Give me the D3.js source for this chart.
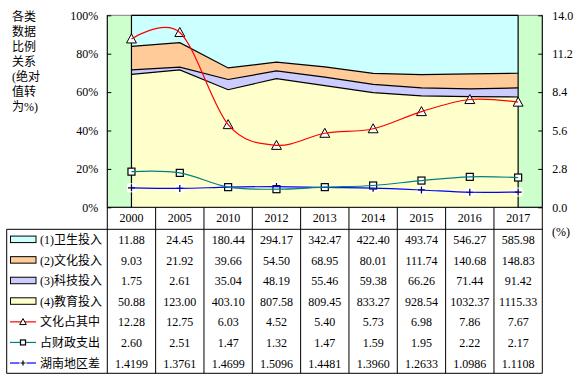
<!DOCTYPE html>
<html><head><meta charset="utf-8">
<script src="https://cdn.jsdelivr.net/npm/d3@7"></script>
<style>html,body{margin:0;padding:0;background:#fff;}svg{display:block;}</style>
</head><body>
<script>
const years = ["2000","2005","2010","2012","2013","2014","2015","2016","2017"];
const health = [11.88,24.45,180.44,294.17,342.47,422.40,493.74,546.27,585.98];
const culture = [9.03,21.92,39.66,54.50,68.95,80.01,111.74,140.68,148.83];
const science = [1.75,2.61,35.04,48.19,55.46,59.38,66.26,71.44,91.42];
const education = [50.88,123.00,403.10,807.58,809.45,833.27,928.54,1032.37,1115.33];
const cultureShare = [12.28,12.75,6.03,4.52,5.40,5.73,6.98,7.86,7.67];
const fiscalShare = [2.60,2.51,1.47,1.32,1.47,1.59,1.95,2.22,2.17];
const regionGap = [1.4199,1.3761,1.4699,1.5096,1.4481,1.3960,1.2633,1.0986,1.1108];
const leftTicks = [0,0.2,0.4,0.6,0.8,1.0];
const rightTicks = [0,2.8,5.6,8.4,11.2,14.0];
const titleLines = ["各类","数据","比例","关系","(绝对","值转","为%)"];

const W=581,H=379;
const L=107.3,R=542.3,T=15.3,B=207.3;
const headerB=229.3, tableB=373.3, tableL=6.7;
const font = "'Liberation Serif','Times New Roman','Noto Sans CJK SC',serif";

const svg=d3.select("body").append("svg").attr("width",W).attr("height",H)
  .style("font-family",font);

const x=d3.scaleBand().domain(years).range([L,R]).padding(0);
const cx=d=>x(d)+x.bandwidth()/2;
const yL=d3.scaleLinear().domain([0,1]).range([B,T]);
const yR=d3.scaleLinear().domain([0,14]).range([B,T]);

// plot background
svg.append("rect").attr("x",L).attr("y",T).attr("width",R-L).attr("height",B-T)
  .attr("fill","#CCFFCC").attr("stroke","#808080").attr("stroke-width",1);

// stacked 100% area
const rows = years.map((yr,i)=>{
  const tot=health[i]+culture[i]+science[i]+education[i];
  return {year:yr, edu:education[i]/tot, sci:science[i]/tot, cul:culture[i]/tot, hea:health[i]/tot};
});
const keys=["edu","sci","cul","hea"];
const colors={edu:"#FFFFCC",sci:"#CCCCFF",cul:"#FFCC99",hea:"#CCFFFF"};
const stack=d3.stack().keys(keys)(rows);
const area=d3.area().x(d=>cx(d.data.year)).y0(d=>yL(d[0])).y1(d=>yL(d[1]));
stack.forEach(s=>{
  svg.append("path").datum(s).attr("d",area).attr("fill",colors[s.key]).attr("stroke","none");
});
const topLine=d3.line().x(d=>cx(d.data.year)).y(d=>yL(d[1]));
stack.forEach(s=>{
  svg.append("path").datum(s).attr("d",topLine).attr("fill","none").attr("stroke","#000").attr("stroke-width",1.2);
});
// area side borders
[years[0],years[years.length-1]].forEach(yr=>{
  svg.append("line").attr("x1",cx(yr)).attr("x2",cx(yr)).attr("y1",T).attr("y2",B)
    .attr("stroke","#000").attr("stroke-width",1.2);
});

// axes lines
svg.append("line").attr("x1",L).attr("x2",L).attr("y1",T).attr("y2",B).attr("stroke","#000");
svg.append("line").attr("x1",R).attr("x2",R).attr("y1",T).attr("y2",B).attr("stroke","#000");

// left axis
const gl=svg.append("g").attr("transform",`translate(${L},0)`)
  .call(d3.axisLeft(yL).tickValues(leftTicks).tickFormat(d3.format(".0%")).tickSize(-4).tickPadding(9));
gl.select(".domain").remove();
gl.selectAll("text").attr("font-size",12).attr("font-family",font).attr("fill","#000");
gl.selectAll("line").attr("stroke","#000");
// right axis
const gr=svg.append("g").attr("transform",`translate(${R},0)`)
  .call(d3.axisRight(yR).tickValues(rightTicks).tickFormat(d3.format(".1f")).tickSize(-4).tickPadding(10));
gr.select(".domain").remove();
gr.selectAll("text").attr("font-size",12).attr("font-family",font).attr("fill","#000");
gr.selectAll("line").attr("stroke","#000");

// lines
const lineDefs=[
  {name:"文化占其中",vals:cultureShare,color:"#FF0000",marker:"tri",fmt:d3.format(".2f")},
  {name:"占财政支出",vals:fiscalShare,color:"#008080",marker:"sq",fmt:d3.format(".2f")},
  {name:"湖南地区差",vals:regionGap,color:"#0000FF",marker:"plus",fmt:d3.format(".4f")}
];
function drawMarker(g,type,px,py,s){
  if(type==="tri"){
    g.append("path").attr("d",`M${px},${py-s*0.55}L${px+s*0.55},${py+s*0.45}L${px-s*0.55},${py+s*0.45}Z`)
      .attr("fill","#fff").attr("stroke","#000").attr("stroke-width",1);
  } else if(type==="sq"){
    g.append("rect").attr("x",px-s/2).attr("y",py-s/2).attr("width",s).attr("height",s)
      .attr("fill","#fff").attr("stroke","#000").attr("stroke-width",1.2);
  } else {
    g.append("rect").attr("x",px-s/2-1).attr("y",py-s/2-1).attr("width",s+2).attr("height",s+2).attr("fill","#fff");
    g.append("path").attr("d",`M${px-s/2},${py}H${px+s/2}M${px},${py-s/2}V${py+s/2}`)
      .attr("stroke","#000").attr("stroke-width",1.2);
  }
}
const mg=svg.append("g");
lineDefs.slice().reverse().forEach(def=>{
  const ln=d3.line().x((d,i)=>cx(years[i])).y(d=>yR(d)).curve(d3.curveCardinal.tension(0));
  svg.append("path").datum(def.vals).attr("d",ln).attr("fill","none").attr("stroke",def.color).attr("stroke-width",1.2);
});
lineDefs.slice().reverse().forEach(def=>{
  def.vals.forEach((v,i)=>drawMarker(mg,def.marker,cx(years[i]),yR(v),def.marker==="tri"?9:7));
});

// title (vertical)
const tg=svg.append("g");
titleLines.forEach((t,i)=>{
  tg.append("text").attr("x",12).attr("y",21+i*15).attr("font-size",12).attr("fill","#000").text(t);
});

// table
const tb=svg.append("g").attr("stroke","#000").attr("stroke-width",1);
tb.append("line").attr("x1",L).attr("x2",R).attr("y1",B).attr("y2",B);
tb.append("line").attr("x1",tableL).attr("x2",R).attr("y1",headerB).attr("y2",headerB);
tb.append("line").attr("x1",tableL).attr("x2",R).attr("y1",tableB).attr("y2",tableB);
tb.append("line").attr("x1",tableL).attr("x2",tableL).attr("y1",headerB).attr("y2",tableB);
years.forEach(yr=>{
  tb.append("line").attr("x1",x(yr)).attr("x2",x(yr)).attr("y1",B).attr("y2",tableB);
});
tb.append("line").attr("x1",R).attr("x2",R).attr("y1",B).attr("y2",tableB);

// header years
years.forEach(yr=>{
  svg.append("text").attr("x",cx(yr)).attr("y",221.5).attr("text-anchor","middle")
    .attr("font-size",12).attr("fill","#000").text(yr);
});
svg.append("text").attr("x",552).attr("y",236).attr("font-size",12).attr("fill","#000").text("(%)");

const rowH=(tableB-headerB)/7;
const tableRows=[
  {name:"(1)卫生投入",vals:health,key:"hea",fmt:d3.format(".2f")},
  {name:"(2)文化投入",vals:culture,key:"cul",fmt:d3.format(".2f")},
  {name:"(3)科技投入",vals:science,key:"sci",fmt:d3.format(".2f")},
  {name:"(4)教育投入",vals:education,key:"edu",fmt:d3.format(".2f")}
].concat(lineDefs);
tableRows.forEach((r,ri)=>{
  const yc=headerB+rowH*(ri+0.5);
  if(r.key){
    svg.append("rect").attr("x",10.5).attr("y",yc-3.5).attr("width",25.5).attr("height",6.5)
      .attr("fill",colors[r.key]).attr("stroke","#000").attr("stroke-width",1);
  } else {
    svg.append("line").attr("x1",10).attr("x2",36).attr("y1",yc).attr("y2",yc)
      .attr("stroke",r.color).attr("stroke-width",1.2);
    drawMarker(svg,r.marker,23,yc,r.marker==="tri"?6:5);
  }
  svg.append("text").attr("x",40).attr("y",yc+4.5).attr("font-size",12).attr("fill","#000").text(r.name);
  r.vals.forEach((v,i)=>{
    svg.append("text").attr("x",cx(years[i])).attr("y",yc+4.5).attr("text-anchor","middle")
      .attr("font-size",12).attr("fill","#000").text(r.fmt(v));
  });
});
</script>
</body></html>
